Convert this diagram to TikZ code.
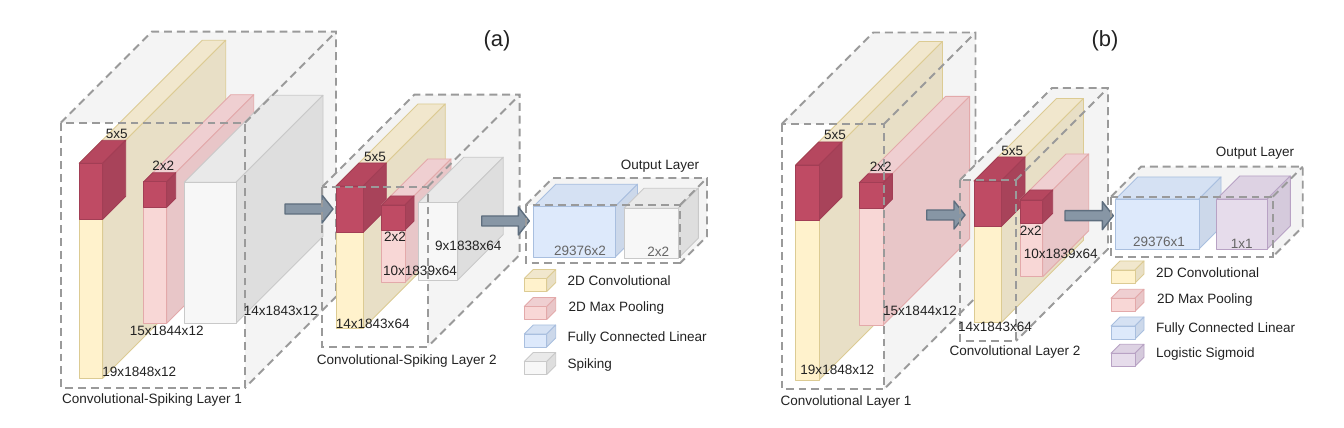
\documentclass[tikz,border=0pt]{standalone}
\usepackage{fontspec}
\setmainfont{Liberation Sans}
\usepackage{xcolor}
\usepackage{tikz}
\usetikzlibrary{calc}
\definecolor{ink}{HTML}{222222}
\definecolor{inkm}{HTML}{666666}
\definecolor{dash}{HTML}{9A9A9A}
\definecolor{haze}{HTML}{F4F4F4}
\definecolor{convF}{HTML}{FFF2CC}
\definecolor{convS}{HTML}{E8DFC6}
\definecolor{convT}{HTML}{F1E7CD}
\definecolor{convD}{HTML}{DCCB93}
\definecolor{maxF}{HTML}{F8D7D6}
\definecolor{maxS}{HTML}{E8C6C8}
\definecolor{maxT}{HTML}{EFCFD1}
\definecolor{maxD}{HTML}{E3A9AA}
\definecolor{kernF}{HTML}{BF4B64}
\definecolor{kernS}{HTML}{A8435A}
\definecolor{kernT}{HTML}{B6475F}
\definecolor{kernD}{HTML}{A23E55}
\definecolor{spkF}{HTML}{F7F7F7}
\definecolor{spkS}{HTML}{DEDEDE}
\definecolor{spkT}{HTML}{E9E9E9}
\definecolor{spkD}{HTML}{C9C9C9}
\definecolor{fcF}{HTML}{DDE9FB}
\definecolor{fcS}{HTML}{CCD8EA}
\definecolor{fcT}{HTML}{D5E1F3}
\definecolor{fcD}{HTML}{A9BFDF}
\definecolor{sigF}{HTML}{E6DCEB}
\definecolor{sigS}{HTML}{D5CADC}
\definecolor{sigT}{HTML}{DDD2E3}
\definecolor{sigD}{HTML}{B8A2C4}
\definecolor{arr}{HTML}{8796A5}
\definecolor{arrD}{HTML}{5E6E7E}
\tikzset{
  face/.style={line width=0.5pt, line join=round},
  ghost/.style={draw=dash, line width=1.1pt, dash pattern=on 4.5pt off 2.8pt},
  flowarrow/.style={fill=arr, draw=arrD, line width=0.8pt, line join=round},
  lab/.style={text=ink, font=\fontsize{7.7}{9}\selectfont, inner sep=0pt},
  labm/.style={text=inkm, font=\fontsize{7.7}{9}\selectfont, inner sep=0pt},
  title/.style={text=ink, font=\fontsize{12.5}{14}\selectfont, inner sep=0pt},
}
% palette, x, y, w, h, depth
\newcommand{\block}[6]{%
  \filldraw[face, draw=#1D, fill=#1T] (#2,#3) -- ++(#6,-#6) -- ++(#4,0) -- ++(-#6,#6) -- cycle;
  \filldraw[face, draw=#1D, fill=#1S] ({#2+#4},#3) -- ++(#6,-#6) -- ++(0,#5) -- ++(-#6,#6) -- cycle;
  \filldraw[face, draw=#1D, fill=#1F] (#2,#3) rectangle ++(#4,#5);
}
% x1, y1, x2, y2, depth
\newcommand{\layerhaze}[5]{%
  \fill[haze] (#1,#2) -- ++(#5,-#5) -- ({#3+#5},{#2-#5}) -- ({#3+#5},{#4-#5}) -- (#3,#4) -- (#3,#2) -- cycle;
}
\newcommand{\layeredge}[5]{%
  \draw[ghost] (#1,#2) rectangle (#3,#4);
  \draw[ghost] (#1,#2) -- ++(#5,-#5) -- ({#3+#5},{#2-#5}) -- ({#3+#5},{#4-#5}) -- (#3,#4);
  \draw[ghost] (#3,#2) -- ++(#5,-#5);
}
% x start, x tip, y
\newcommand{\flow}[3]{%
  \filldraw[flowarrow] (#1,{#3-5}) -- ({#2-11},{#3-5}) -- ({#2-11},{#3-14}) -- (#2,#3)
    -- ({#2-11},{#3+14}) -- ({#2-11},{#3+5}) -- (#1,{#3+5}) -- cycle;
}
\begin{document}
\begin{tikzpicture}[x=0.02cm, y=-0.02cm]
  \useasboundingbox (0,0) rectangle (1344,428);

  % (a) convolutional-spiking layer 1
  \layerhaze{60.7}{122.7}{245}{387.7}{91}
  \block{conv}{79.3}{163.3}{23.4}{215}{123}
  \block{kern}{79.3}{163.3}{23.4}{56}{23}
  \block{max}{143.7}{181.7}{23}{141.6}{87}
  \block{kern}{143.7}{181.7}{23}{25.6}{9}
  \block{spk}{184.3}{182.3}{51.7}{141}{87}
  \layeredge{60.7}{122.7}{245}{387.7}{91}
  \node[lab] (a1k) at (116.7,134.3) {5x5};
  \node[lab] (a1p) at (163.3,166) {2x2};
  \node[lab] (a1s) at (280.7,310.7) {14x1843x12};
  \node[lab] (a1m) at (166.7,331) {15x1844x12};
  \node[lab] (a1c) at (139.3,371.7) {19x1848x12};
  \node[lab] (a1n) at (152,400) {Convolutional-Spiking Layer 1};
  \flow{285}{333}{209}

  % (a) convolutional-spiking layer 2
  \layerhaze{322.3}{186.7}{427.7}{346.7}{92}
  \block{conv}{336}{186}{27.3}{142.3}{82}
  \block{kern}{336}{186}{27.3}{46.3}{23}
  \block{max}{381.7}{205}{23.3}{77.3}{46}
  \block{kern}{381.7}{205}{23.3}{25}{9}
  \block{spk}{418.3}{202.7}{39.4}{77.3}{45.5}
  \layeredge{322.3}{186.7}{427.7}{346.7}{92}
  \node[lab] (a2k) at (375,156.7) {5x5};
  \node[lab] (a2p) at (395,236.7) {2x2};
  \node[lab] (a2m) at (420,271) {10x1839x64};
  \node[lab] (a2s) at (468.3,245.7) {9x1838x64};
  \node[lab] (a2c) at (372.7,324.3) {14x1843x64};
  \node[lab] (a2n) at (406.7,361) {Convolutional-Spiking Layer 2};
  \flow{481.7}{529.3}{221}

  % (a) output layer
  \layerhaze{525.7}{205}{680}{263.3}{27}
  \block{fc}{533.3}{206.7}{81.7}{50.6}{22.5}
  \block{spk}{624}{208.3}{54.3}{50}{20}
  \layeredge{525.7}{205}{680}{263.3}{27}
  \node[lab] (aon) at (660,166) {Output Layer};
  \node[labm] (aof) at (580,251) {29376x2};
  \node[labm] (aos) at (658.3,251.7) {2x2};

  % (a) legend
  \block{conv}{524.3}{278.5}{22.4}{13}{9}
  \block{max}{524.3}{306.5}{22.4}{13}{9}
  \block{fc}{524.3}{334}{22.4}{13}{9}
  \block{spk}{524.3}{361.5}{22.4}{13}{9}
  \node[lab, anchor=west] (aleg1) at (567.3,280.3) {2D Convolutional};
  \node[lab, anchor=west] (aleg2) at (568.3,308.3) {2D Max Pooling};
  \node[lab, anchor=west] (aleg3) at (567.3,337.7) {Fully Connected Linear};
  \node[lab, anchor=west] (aleg4) at (567.3,365) {Spiking};
  \node[title] (ta) at (497,41) {(a)};

  % (b) convolutional layer 1
  \layerhaze{781.7}{124}{884}{389.3}{91.5}
  \block{conv}{795.7}{165}{23.3}{215}{123.5}
  \block{kern}{795.7}{165}{23.3}{55}{23}
  \block{max}{859.3}{182.7}{24}{142.3}{86.3}
  \block{kern}{859.3}{182.7}{24}{25.6}{9}
  \layeredge{781.7}{124}{884}{389.3}{91.5}
  \node[lab] (b1k) at (835,135) {5x5};
  \node[lab] (b1p) at (880.7,166.7) {2x2};
  \node[lab] (b1m) at (920,311) {15x1844x12};
  \node[lab] (b1c) at (837.3,370) {19x1848x12};
  \node[lab] (b1n) at (846,402.3) {Convolutional Layer 1};
  \flow{926.7}{965}{215}

  % (b) convolutional layer 2
  \layerhaze{960}{180}{1016}{341}{92}
  \block{conv}{974}{181}{27}{141.7}{82.5}
  \block{kern}{974}{181}{27}{45.7}{24}
  \block{max}{1020}{200}{22.7}{76.7}{46}
  \block{kern}{1020}{200}{22.7}{23.3}{10}
  \layeredge{960}{180}{1016}{341}{92}
  \node[lab] (b2k) at (1012.3,151) {5x5};
  \node[lab] (b2p) at (1030.7,231) {2x2};
  \node[lab] (b2m) at (1060.7,254.3) {10x1839x64};
  \node[lab] (b2c) at (995,326.7) {14x1843x64};
  \node[lab] (b2n) at (1015,352.3) {Convolutional Layer 2};
  \flow{1065}{1113.3}{215.7}

  % (b) output layer
  \layerhaze{1111}{196.7}{1272.7}{256.7}{30}
  \block{fc}{1115.7}{199}{83.3}{50}{22}
  \block{sig}{1216.7}{199}{50.6}{50}{23}
  \layeredge{1111}{196.7}{1272.7}{256.7}{30}
  \node[lab] (bon) at (1255,153.3) {Output Layer};
  \node[labm] (bof) at (1159,242.3) {29376x1};
  \node[labm] (bos) at (1241.7,244.3) {1x1};

  % (b) legend
  \block{conv}{1111}{270}{24}{13}{9}
  \block{max}{1111}{298.3}{24}{13}{9}
  \block{fc}{1111}{326}{24}{13}{9}
  \block{sig}{1111}{353.3}{24}{13}{9}
  \node[lab, anchor=west] (bleg1) at (1155.7,272.3) {2D Convolutional};
  \node[lab, anchor=west] (bleg2) at (1156.7,300) {2D Max Pooling};
  \node[lab, anchor=west] (bleg3) at (1155.7,329.3) {Fully Connected Linear};
  \node[lab, anchor=west] (bleg4) at (1155.7,354.3) {Logistic Sigmoid};
  \node[title] (tb) at (1105,41) {(b)};
\end{tikzpicture}
\end{document}
